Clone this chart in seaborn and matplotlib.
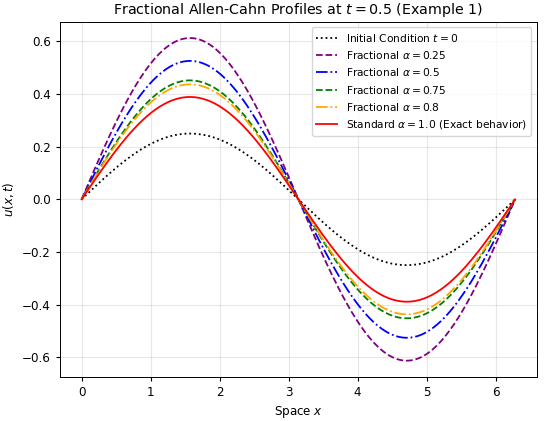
import numpy as np
import pandas as pd
import matplotlib
matplotlib.use("Agg")
import matplotlib.pyplot as plt
import seaborn as sns

# peak amplitudes: u(x, 0.5) = A * sin(x)
labels = [
    "Initial Condition $t=0$",
    r"Fractional $\alpha=0.25$",
    r"Fractional $\alpha=0.5$",
    r"Fractional $\alpha=0.75$",
    r"Fractional $\alpha=0.8$",
    r"Standard $\alpha=1.0$ (Exact behavior)",
]
amplitudes = [0.25, 0.613, 0.526, 0.452, 0.437, 0.389]
colors = ["black", "purple", "blue", "green", "orange", "red"]
styles = [":", "--", "-.", "--", "-.", "-"]

x = np.linspace(0, 2 * np.pi, 200)

rows = []
for lab, amp in zip(labels, amplitudes):
    rows.append(pd.DataFrame({"x": x, "u": amp * np.sin(x), "curve": lab}))
df = pd.concat(rows, ignore_index=True)

plt.rcParams.update({
    "font.size": 8.6,
    "xtick.major.size": 3,
    "ytick.major.size": 3,
    "axes.linewidth": 0.7,
})

fig, ax = plt.subplots(figsize=(5.5, 4.21), dpi=100)
for lab, c, ls in zip(labels, colors, styles):
    sns.lineplot(data=df[df["curve"] == lab], x="x", y="u", ax=ax,
                 color=c, linestyle=ls, linewidth=1.3, label=lab)

ax.set_title("Fractional Allen-Cahn Profiles at $t=0.5$ (Example 1)", fontsize=10.3)
ax.set_xlabel("Space $x$", fontsize=8.6)
ax.set_ylabel("$u(x,t)$", fontsize=8.6)
ax.tick_params(labelsize=8.6)
ax.grid(True, alpha=0.3)
ax.legend(loc="upper right", fontsize=7.7)
fig.subplots_adjust(left=0.109, right=0.976, top=0.948, bottom=0.105)
fig.savefig("out.png", dpi=100)
